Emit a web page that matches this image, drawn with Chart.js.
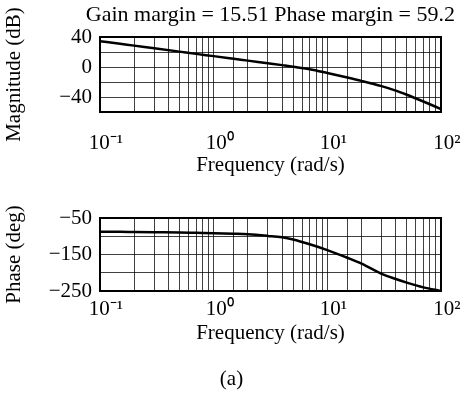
<!DOCTYPE html>
<html><head><meta charset="utf-8">
<script src="https://cdn.jsdelivr.net/npm/chart.js@4.4.0/dist/chart.umd.min.js"></script>
<style>
html,body{margin:0;padding:0;background:#fff;}
#wrap{position:relative;width:463px;height:406px;overflow:hidden;background:#fff;}
canvas{position:absolute;left:0;display:block;}
#cap{position:absolute;left:0;width:463px;text-align:center;top:366px;font:21px 'Liberation Serif','Times New Roman',serif;line-height:24px;color:#000;}
</style></head><body>
<div id="wrap">
<canvas id="mag" width="463" height="190" style="top:0"></canvas>
<canvas id="phase" width="463" height="216" style="top:190px"></canvas>
<div id="cap">(a)</div>
</div>
<script>
const frequencies = [0.1,0.15,0.2,0.3,0.5,0.7,1,1.5,2,3,4,5,7,10,15,20,30,40,50,70,100];
const magnitudeDb = [34.5,31,28.5,25,20.5,17.5,14.5,11,8.5,5,2.5,0.5,-3,-8,-14,-18.5,-25.5,-31.5,-37,-46,-56];
const phaseDeg = [-88,-88,-88.5,-89,-89.5,-90.5,-91.5,-93,-94.5,-99,-103,-109,-122,-138,-159,-175,-203,-217,-227,-240,-250];
const decadeTicks = [0.1,1,10,100];
const decadeLabels = ['10\u207B\u00B9','10\u2070','10\u00B9','10\u00B2'];
const magLabelTicks = [40,0,-40];
const phaseLabelTicks = [-50,-150,-250];
const titleText = 'Gain margin = 15.51 Phase margin = 59.2';
const xTitle = 'Frequency (rad/s)';
const magTitle = 'Magnitude (dB)';
const phaseTitle = 'Phase (deg)';

const FONT = "'Liberation Serif','Times New Roman',serif";
Chart.defaults.font.family = FONT;
Chart.defaults.color = '#000';

function fmtNum(v){ return v < 0 ? '\u2212' + Math.abs(v) : String(v); }
function decadeLabel(v){
  const i = decadeTicks.findIndex(d => Math.abs(Math.log10(v) - Math.log10(d)) < 1e-6);
  return i >= 0 ? decadeLabels[i] : '';
}
const GRID_COLOR = 'rgba(0,0,0,0.75)';
const GRID_DASH = [3,3];
const borderStyle = { display: true, color: '#000', width: 2 };

function makeChart(id, values, cfg){
  return new Chart(document.getElementById(id), {
    type: 'line',
    data: { datasets: [{
      data: frequencies.map((f,i) => ({x: f, y: values[i]})),
      borderColor: '#000', borderWidth: 2.5, pointRadius: 0,
      cubicInterpolationMode: 'monotone', fill: false
    }]},
    options: {
      responsive: false, animation: false, devicePixelRatio: 1,
      layout: { padding: cfg.padding },
      plugins: {
        legend: { display: false }, tooltip: { enabled: false },
        title: cfg.title
      },
      scales: {
        x: {
          type: 'logarithmic', min: 0.1, max: 100, position: 'bottom',
          grid: { color: GRID_COLOR, lineWidth: 1, borderDash: GRID_DASH, drawTicks: true,
                  tickLength: cfg.xTickLen, tickColor: 'rgba(0,0,0,0)' },
          border: borderStyle,
          ticks: { autoSkip: false, maxRotation: 0, padding: 6, labelOffset: 6,
                   font: { size: 21 }, callback: decadeLabel },
          title: { display: true, text: xTitle, font: { size: 21 }, padding: { top: 0, bottom: 4 } },
          afterFit: s => { s.height = cfg.xHeight; }
        },
        x2: {
          type: 'logarithmic', min: 0.1, max: 100, position: 'top',
          grid: { display: false, drawTicks: false }, border: borderStyle,
          ticks: { display: false },
          afterFit: s => { s.height = 0; }
        },
        y: {
          type: 'linear', min: cfg.yMin, max: cfg.yMax, position: 'left',
          grid: { color: GRID_COLOR, lineWidth: 1, borderDash: GRID_DASH, drawTicks: false },
          border: borderStyle,
          ticks: { stepSize: cfg.step, padding: 8, autoSkip: false, font: { size: 21 },
                   callback: v => cfg.labels.includes(v) ? fmtNum(v) : '' },
          title: { display: true, text: cfg.yTitle, font: { size: 21 }, padding: { top: 2, bottom: 0 } },
          afterFit: s => { s.width = 100; }
        },
        y2: {
          type: 'linear', min: cfg.yMin, max: cfg.yMax, position: 'right',
          grid: { display: false, drawTicks: false }, border: borderStyle,
          ticks: { display: false },
          afterFit: s => { s.width = 14; }
        }
      }
    }
  });
}

makeChart('mag', magnitudeDb, {
  padding: { top: 0, left: 0, right: 8, bottom: 8.4 },
  title: { display: true, text: titleText, color: '#000', align: 'end',
           font: { size: 22, weight: 'normal' }, padding: { top: 2, bottom: 8.6 } },
  xTickLen: 13, xHeight: 69.6,
  yMin: -60, yMax: 40, step: 20, labels: magLabelTicks, yTitle: magTitle
});
makeChart('phase', phaseDeg, {
  padding: { top: 28, left: 0, right: 8, bottom: 56.4 },
  title: { display: false },
  xTickLen: 0, xHeight: 58.6,
  yMin: -250, yMax: -50, step: 50, labels: phaseLabelTicks, yTitle: phaseTitle
});
</script>
</body></html>
